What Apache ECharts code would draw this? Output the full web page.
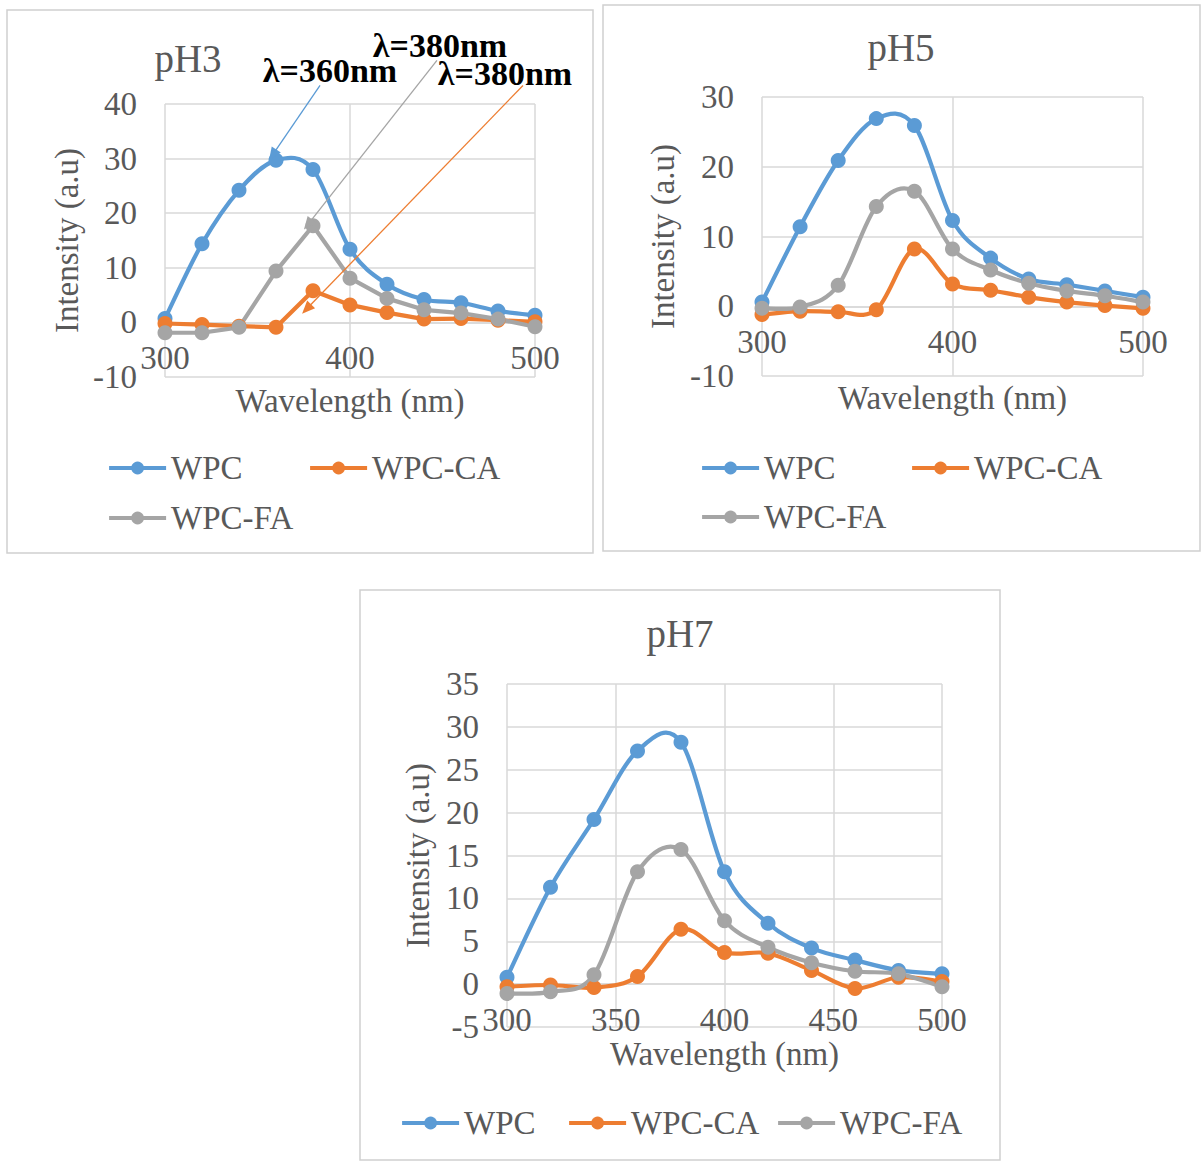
<!DOCTYPE html>
<html>
<head>
<meta charset="utf-8">
<title>Fluorescence intensity of WPC complexes at pH 3, 5 and 7</title>
<script src="https://cdn.jsdelivr.net/npm/echarts@6/dist/echarts.min.js"></script>
<style>
  html, body { margin: 0; padding: 0; background: #ffffff; }
  #chart { width: 1203px; height: 1163px; }
</style>
</head>
<body>
<div id="chart"></div>
<script>
// ---- data ----
const seriesNames = ['WPC', 'WPC-CA', 'WPC-FA'];
const wavelengths = [300, 320, 340, 360, 380, 400, 420, 440, 460, 480, 500];

const ph3WPC = [0.7, 14.4, 24.2, 29.7, 28.0, 13.4, 7.0, 4.2, 3.6, 2.1, 1.3];
const ph3CA  = [-0.2, -0.4, -0.7, -0.9, 5.8, 3.2, 1.8, 0.6, 0.7, 0.4, 0.1];
const ph3FA  = [-1.9, -1.9, -0.9, 9.4, 17.7, 8.1, 4.4, 2.3, 1.7, 0.6, -0.8];

const ph5WPC = [0.6, 11.4, 20.9, 26.9, 25.9, 12.3, 6.9, 3.9, 3.1, 2.2, 1.3];
const ph5CA  = [-1.2, -0.7, -0.8, -0.5, 8.2, 3.2, 2.3, 1.3, 0.6, 0.1, -0.3];
const ph5FA  = [-0.3, -0.1, 3.0, 14.3, 16.5, 8.2, 5.2, 3.3, 2.2, 1.5, 0.6];

const ph7WPC = [0.8, 11.3, 19.2, 27.2, 28.2, 13.1, 7.1, 4.2, 2.8, 1.6, 1.2];
const ph7CA  = [-0.3, -0.1, -0.4, 0.9, 6.4, 3.7, 3.6, 1.6, -0.5, 0.8, 0.3];
const ph7FA  = [-1.1, -0.9, 1.1, 13.1, 15.7, 7.4, 4.3, 2.5, 1.5, 1.2, -0.3];

// tick labels of each panel
const ph3XTicks = [300, 400, 500];
const ph3YTicks = [-10, 0, 10, 20, 30, 40];
const ph5XTicks = [300, 400, 500];
const ph5YTicks = [-10, 0, 10, 20, 30];
const ph7XTicks = [300, 350, 400, 450, 500];
const ph7YTicks = [-5, 0, 5, 10, 15, 20, 25, 30, 35];

const panelTitles = ['pH3', 'pH5', 'pH7'];
const xAxisTitle = 'Wavelength (nm)';
const yAxisTitle = 'Intensity (a.u)';

// peak callouts on the pH3 panel: text, pointed series, arrow tail and tip in data units
const peakNotes = [
  { text: 'λ=360nm', series: 0, tail: [383.8, 43.4], tip: [356.2, 29.7] },
  { text: 'λ=380nm', series: 2, tail: [447.0, 48.0], tip: [375.1, 17.0] },
  { text: 'λ=380nm', series: 1, tail: [493.5, 43.4], tip: [374.1, 1.6] }
];

// ---- styling / layout ----
const colors = ['#5b9bd5', '#ed7d31', '#a5a5a5'];
const FONT = '"Liberation Serif", "Times New Roman", serif';
const TXT = '#595959';
const GRIDC = '#d9d9d9';
const FS = 33;

const panels = [
  { values: [ph3WPC, ph3CA, ph3FA], xt: ph3XTicks, yt: ph3YTicks,
    grid: { left: 165, top: 104, width: 370, height: 273 },
    box: [7, 10, 586, 543], titlePos: [188, 58],
    xNameGap: 62, yNameGap: 82, tension: [1 / 6, 0, 0],
    legend: [[107, 468], [308, 468], [107, 518]] },
  { values: [ph5WPC, ph5CA, ph5FA], xt: ph5XTicks, yt: ph5YTicks,
    grid: { left: 762, top: 97, width: 381, height: 279 },
    box: [603, 5, 597, 546], titlePos: [901, 47],
    xNameGap: 75, yNameGap: 83, tension: [1 / 6, 1 / 6, 1 / 6],
    legend: [[700, 468], [910, 468], [700, 517]] },
  { values: [ph7WPC, ph7CA, ph7FA], xt: ph7XTicks, yt: ph7YTicks,
    grid: { left: 507, top: 684, width: 435, height: 343 },
    box: [360, 590, 640, 570], titlePos: [680, 633],
    xNameGap: 51, yNameGap: 73, tension: [1 / 6, 1 / 6, 1 / 6],
    legend: [[400, 1123], [567, 1123], [776, 1123]] }
];

// smoothed connector between consecutive points (cubic Bezier through the data,
// control points taken from the neighbouring points)
function curveRenderer(vals, tension, color) {
  return function (params, api) {
    const i = params.dataIndex;
    const n = vals.length;
    if (i >= n - 1) return null;
    const pt = k => api.coord([wavelengths[k], vals[k]]);
    const p0 = pt(Math.max(i - 1, 0));
    const p1 = pt(i);
    const p2 = pt(i + 1);
    const p3 = pt(Math.min(i + 2, n - 1));
    return {
      type: 'bezierCurve',
      shape: {
        x1: p1[0], y1: p1[1], x2: p2[0], y2: p2[1],
        cpx1: p1[0] + (p2[0] - p0[0]) * tension,
        cpy1: p1[1] + (p2[1] - p0[1]) * tension,
        cpx2: p2[0] - (p3[0] - p1[0]) * tension,
        cpy2: p2[1] - (p3[1] - p1[1]) * tension
      },
      style: { stroke: color, lineWidth: 4.2, fill: 'none', lineCap: 'round' },
      silent: true
    };
  };
}

const grids = [], xAxes = [], yAxes = [], series = [], legends = [];

panels.forEach((p, pi) => {
  const yMin = p.yt[0], yMax = p.yt[p.yt.length - 1];
  grids.push(Object.assign({ containLabel: false }, p.grid));
  xAxes.push({
    type: 'value', gridIndex: pi,
    min: p.xt[0], max: p.xt[p.xt.length - 1], interval: p.xt[1] - p.xt[0],
    // the horizontal axis crosses the vertical one at intensity 0
    offset: -p.grid.height * (0 - yMin) / (yMax - yMin),
    name: xAxisTitle, nameLocation: 'middle', nameGap: p.xNameGap,
    nameTextStyle: { fontFamily: FONT, fontSize: FS, color: TXT },
    axisLine: { show: true, onZero: false, lineStyle: { color: GRIDC, width: 1.5 } },
    axisTick: { show: false },
    axisLabel: { margin: 19, fontFamily: FONT, fontSize: FS, color: TXT },
    splitLine: { show: true, lineStyle: { color: GRIDC, width: 1.5 } }
  });
  yAxes.push({
    type: 'value', gridIndex: pi,
    min: yMin, max: yMax, interval: p.yt[1] - p.yt[0],
    name: yAxisTitle, nameLocation: 'middle', nameGap: p.yNameGap,
    nameTextStyle: { fontFamily: FONT, fontSize: FS, color: TXT },
    axisLine: { show: false },
    axisTick: { show: false },
    axisLabel: { margin: 28, fontFamily: FONT, fontSize: FS, color: TXT },
    splitLine: { show: true, lineStyle: { color: GRIDC, width: 1.5 } }
  });
  p.values.forEach((vals, si) => {
    const pts = wavelengths.map((w, i) => [w, vals[i]]);
    series.push({
      type: 'custom', name: seriesNames[si] + ' curve',
      xAxisIndex: pi, yAxisIndex: pi,
      data: pts,
      encode: { x: 0, y: 1 },
      renderItem: curveRenderer(vals, p.tension[si], colors[si]),
      silent: true
    });
    series.push({
      type: 'line', name: seriesNames[si],
      xAxisIndex: pi, yAxisIndex: pi,
      data: pts,
      symbol: 'circle', symbolSize: 15,
      lineStyle: { width: 4, color: colors[si], opacity: 0 },
      itemStyle: { color: colors[si] },
      clip: false,
      silent: true
    });
  });
  p.legend.forEach((pos, si) => {
    legends.push({
      data: [seriesNames[si]],
      left: pos[0], top: pos[1] - FS / 2,
      padding: 0,
      itemWidth: 57, itemHeight: 16,
      selectedMode: false,
      lineStyle: { color: colors[si], width: 4.2, opacity: 1, type: 'solid' },
      itemStyle: { color: colors[si] },
      textStyle: { fontFamily: FONT, fontSize: FS, color: TXT }
    });
  });
});

const chart = echarts.init(document.getElementById('chart'), null, { renderer: 'svg' });
chart.setOption({
  animation: false,
  backgroundColor: '#ffffff',
  color: colors,
  grid: grids,
  xAxis: xAxes,
  yAxis: yAxes,
  legend: legends,
  series: series
});

// frames, panel titles and pH3 peak callouts
const graphics = [];
panels.forEach((p, pi) => {
  graphics.push({
    type: 'rect', z: -10, silent: true,
    shape: { x: p.box[0], y: p.box[1], width: p.box[2], height: p.box[3] },
    style: { fill: 'none', stroke: '#d0d0d0', lineWidth: 1.5 }
  });
  graphics.push({
    type: 'text', silent: true,
    x: p.titlePos[0], y: p.titlePos[1],
    style: { text: panelTitles[pi], font: '39px ' + FONT, fill: TXT,
             align: 'center', verticalAlign: 'middle' }
  });
});

const notePos = [[330, 70], [440, 45], [505, 73]];
peakNotes.forEach((n, k) => {
  const a = chart.convertToPixel({ gridIndex: 0 }, n.tail);
  const b = chart.convertToPixel({ gridIndex: 0 }, n.tip);
  const dx = b[0] - a[0], dy = b[1] - a[1];
  const len = Math.sqrt(dx * dx + dy * dy);
  const ux = dx / len, uy = dy / len;
  const L = 13, W = 5.5;
  const bx = b[0] - ux * L, by = b[1] - uy * L;
  const col = colors[n.series];
  graphics.push({
    type: 'line', silent: true, z: 50,
    shape: { x1: a[0], y1: a[1], x2: bx + ux * 2, y2: by + uy * 2 },
    style: { stroke: col, lineWidth: 1.3 }
  });
  graphics.push({
    type: 'polygon', silent: true, z: 50,
    shape: { points: [b, [bx - uy * W, by + ux * W], [bx + uy * W, by - ux * W]] },
    style: { fill: col }
  });
  graphics.push({
    type: 'text', silent: true, z: 60,
    x: notePos[k][0], y: notePos[k][1],
    style: { text: n.text, font: 'bold 34px ' + FONT, fill: '#000000',
             lineHeight: 26, align: 'center', verticalAlign: 'middle' }
  });
});

chart.setOption({ graphic: graphics });
</script>
</body>
</html>
